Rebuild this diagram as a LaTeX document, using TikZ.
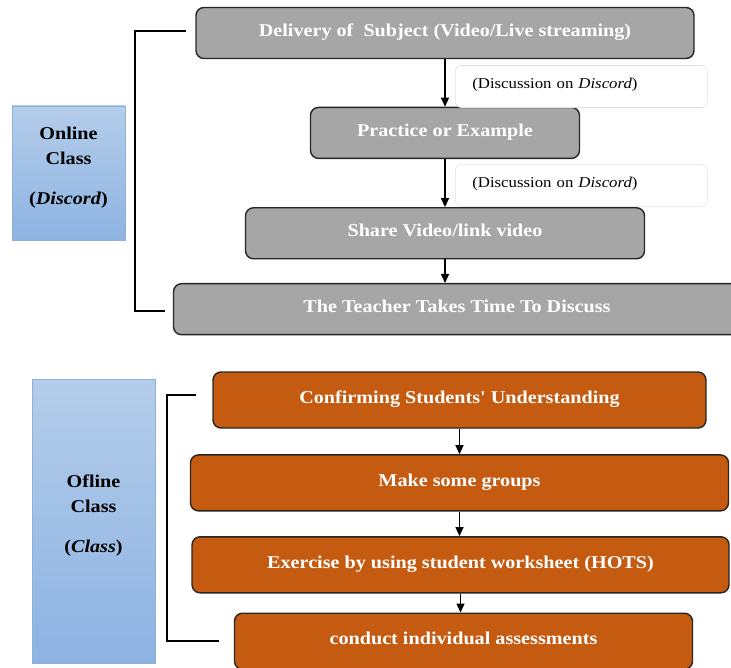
\documentclass[tikz,border=0pt]{standalone}
\usepackage{fontspec}
\setmainfont{Liberation Serif}
\newfontfamily\boxfont[FakeStretch=1.12]{Liberation Serif}
\usetikzlibrary{positioning,arrows.meta}
\definecolor{grayfill}{HTML}{A6A6A6}
\definecolor{orangefill}{HTML}{C55A11}
\definecolor{edge}{HTML}{262626}
\definecolor{bluetop}{HTML}{B4CDEA}
\definecolor{bluebot}{HTML}{8DB3E2}
\definecolor{blueedge}{HTML}{8EB1DC}

\begin{document}
\begin{tikzpicture}[>={Triangle[length=9pt,width=8pt]}, node distance=48pt,
  flow/.style={draw=edge, line width=1.4pt, rounded corners=8pt, text=white,
    font=\boxfont\bfseries\fontsize{18}{22}\selectfont, minimum height=51pt, inner sep=0pt,
    text height=12pt, text depth=5pt},
  onbox/.style={flow, fill=grayfill},
  offbox/.style={flow, fill=orangefill, minimum height=56pt},
  side/.style={draw=blueedge, line width=0.8pt, top color=bluetop, bottom color=bluebot,
    align=center, font=\boxfont\bfseries\fontsize{18}{25}\selectfont, text depth=15pt},
  note/.style={draw=black!12, fill=white, rounded corners=6pt, line width=0.6pt,
    font=\boxfont\fontsize{15}{18}\selectfont, text width=218pt, inner xsep=17pt,
    minimum height=42pt, align=left, anchor=north west, text depth=6pt},
  link/.style={->, line width=1.3pt}]
\useasboundingbox (0,0) rectangle (731pt,-668pt);

\node[onbox, minimum width=498pt] (deliv) at (445pt,-33pt) {Delivery of~~Subject (Video/Live streaming)};
\node[onbox, minimum width=269pt, below=47.5pt of deliv] (prac) {Practice or Example};
\node[onbox, minimum width=399pt, below=48pt of prac] (share) {Share Video/link video};
\node[onbox, minimum width=567pt, below=23.5pt of share, xshift=12pt] (teach) {The Teacher Takes Time To Discuss};
\draw[link] (deliv) -- (prac);
\draw[link] (prac) -- (share);
\draw[link] (share.south) -- (share.south |- teach.north);

  \node[note] (d1) at ([xshift=10pt,yshift=-6pt]deliv.south) {(Discussion on \textit{Discord})};
  \node[note] (d2) at ([xshift=10pt,yshift=-5pt]prac.south) {(Discussion on \textit{Discord})};

  \node[side, minimum width=113pt, minimum height=134pt] (onl) at (68.5pt,-173pt) {Online\\Class\\[15pt](\textit{Discord})};
  \draw[line width=1.8pt] ([xshift=-9pt,yshift=2pt]deliv.west) -- ++(-51pt,0) |- ([xshift=-8pt,yshift=-2pt]teach.west);

\node[offbox, minimum width=493pt] (conf) at (459.5pt,-400pt) {Confirming Students' Understanding};
\node[offbox, minimum width=538pt, below=25.5pt of conf] (grp) {Make some groups};
\node[offbox, minimum width=537pt, below=24.5pt of grp, xshift=1pt] (exer) {Exercise by using student worksheet (HOTS)};
\node[offbox, minimum width=458pt, below=19pt of exer, xshift=3pt] (assess) {conduct individual assessments};
\draw[link] (conf) -- (grp);
\draw[link] (grp.south) -- (grp.south |- exer.north);
\draw[link] (exer.south) -- (exer.south |- assess.north);

  \node[side, minimum width=123pt, minimum height=284pt] (offl) at (93.5pt,-521pt) {Ofline\\Class\\[15pt](\textit{Class})};
  \draw[line width=1.8pt] ([xshift=-16pt,yshift=5pt]conf.west) -- ++(-29pt,0) |- ([xshift=-15pt]assess.west);

\end{tikzpicture}
\end{document}
